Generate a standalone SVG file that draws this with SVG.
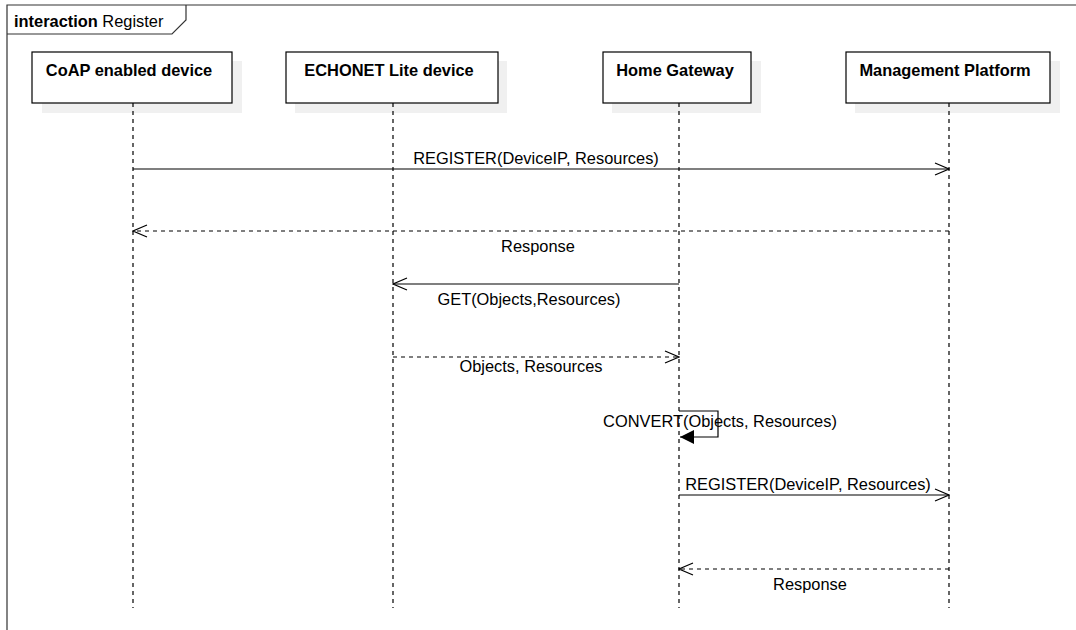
<svg xmlns="http://www.w3.org/2000/svg" width="1076" height="630" viewBox="0 0 1076 630">
<defs>
<style>
.t{font-family:"Liberation Sans",Arial,sans-serif;font-size:16.4px;fill:#000}
.b{font-weight:bold}
.box{fill:#fff;stroke:#000;stroke-width:1.2}
.sh{fill:#f0f0f0;stroke:none}
.life{stroke:#000;stroke-width:1.2;stroke-dasharray:4,4;fill:none}
.msg{stroke:#000;stroke-width:1.2;fill:none}
.dash{stroke-dasharray:4,4}
.frame{stroke:#333;stroke-width:1.2;fill:none}
</style>
<marker id="open" viewBox="0 0 16 14" refX="15" refY="7" markerWidth="16" markerHeight="14" markerUnits="userSpaceOnUse" orient="auto">
<path d="M1,1 L15,7 L1,13" fill="none" stroke="#000" stroke-width="1.2"/>
</marker>
<marker id="fill" viewBox="0 0 14 14" refX="14" refY="7" markerWidth="14" markerHeight="14" markerUnits="userSpaceOnUse" orient="auto">
<path d="M0,0 L14,7 L0,14 Z" fill="#000"/>
</marker>
</defs>
<rect width="1076" height="630" fill="#fff"/>
<g id="frame">
<path class="frame" d="M7,640 L7,5 L1080,5"/>
<path class="frame" d="M7,34 L172,34 L186,20 L186,5"/>
<text class="t" x="14" y="27"><tspan class="b">interaction</tspan> Register</text>
</g>
<g id="coap">
<rect class="sh" x="42" y="61" width="200" height="52"/>
<line class="life" x1="133" y1="103" x2="133" y2="608"/>
<rect class="box" x="32" y="52" width="200" height="51"/>
<text class="t b" x="129" y="76" text-anchor="middle">CoAP enabled device</text>
</g>
<g id="echonet">
<rect class="sh" x="295" y="61" width="212" height="52"/>
<line class="life" x1="393" y1="103" x2="393" y2="608"/>
<rect class="box" x="286" y="52" width="212" height="51"/>
<text class="t b" x="389" y="76" text-anchor="middle">ECHONET Lite device</text>
</g>
<g id="gateway">
<rect class="sh" x="612" y="61" width="149" height="52"/>
<line class="life" x1="679" y1="103" x2="679" y2="608"/>
<rect class="box" x="603" y="52" width="148" height="51"/>
<text class="t b" x="675" y="76" text-anchor="middle">Home Gateway</text>
</g>
<g id="platform">
<rect class="sh" x="855" y="61" width="205" height="52"/>
<line class="life" x1="949" y1="103" x2="949" y2="608"/>
<rect class="box" x="846" y="52" width="204" height="51"/>
<text class="t b" x="945" y="76" text-anchor="middle">Management Platform</text>
</g>
<g id="connectors">
<line class="msg" x1="133" y1="169" x2="949" y2="169" marker-end="url(#open)"/>
<text class="t" x="536" y="164" text-anchor="middle">REGISTER(DeviceIP, Resources)</text>
<line class="msg dash" x1="949" y1="231" x2="133" y2="231" marker-end="url(#open)"/>
<text class="t" x="538" y="252" text-anchor="middle">Response</text>
<line class="msg" x1="679" y1="284" x2="393" y2="284" marker-end="url(#open)"/>
<text class="t" x="529" y="305" text-anchor="middle">GET(Objects,Resources)</text>
<line class="msg dash" x1="393" y1="357" x2="679" y2="357" marker-end="url(#open)"/>
<text class="t" x="531" y="372" text-anchor="middle">Objects, Resources</text>
<path class="msg" d="M679,411 L718,411 L718,437 L680,437" marker-end="url(#fill)"/>
<text class="t" x="720" y="427" text-anchor="middle">CONVERT(Objects, Resources)</text>
<line class="msg" x1="679" y1="495" x2="949" y2="495" marker-end="url(#open)"/>
<text class="t" x="808" y="490" text-anchor="middle">REGISTER(DeviceIP, Resources)</text>
<line class="msg dash" x1="949" y1="569" x2="679" y2="569" marker-end="url(#open)"/>
<text class="t" x="810" y="590" text-anchor="middle">Response</text>
</g>
</svg>
